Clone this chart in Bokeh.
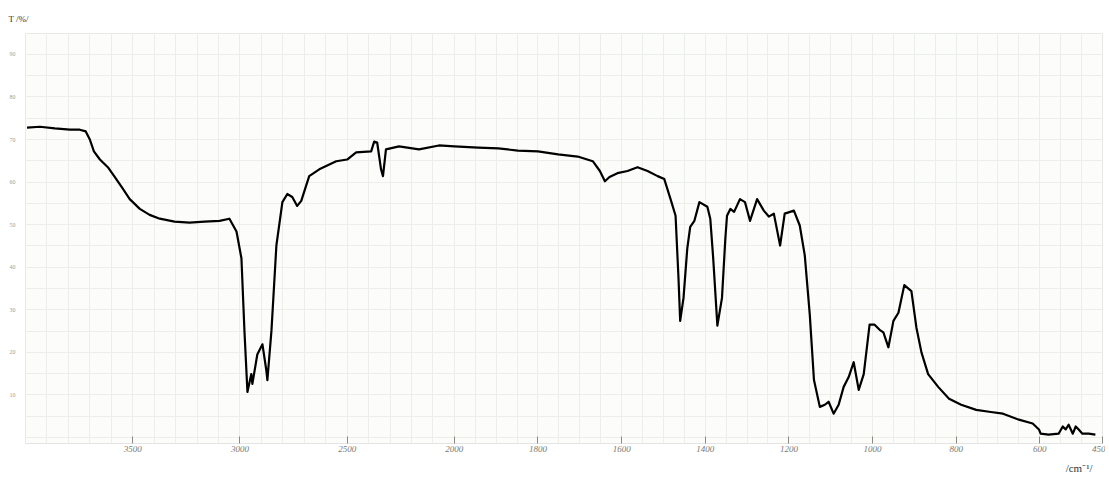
import numpy as np
from bokeh.plotting import figure
from bokeh.models import FixedTicker, Range1d, Title
from bokeh.embed import file_html
from bokeh.resources import INLINE

# --- data: IR spectrum (wavenumber cm^-1, transmittance %) ---
wavenumber = [3993, 3933, 3863, 3793, 3747, 3719, 3700, 3681, 3653, 3616, 3584, 3551,
              3514, 3467, 3421, 3374, 3305, 3235, 3165, 3095, 3049, 3016, 2993, 2979,
              2965, 2947, 2942, 2919, 2895, 2877, 2872, 2853, 2830, 2802, 2779, 2756,
              2733, 2714, 2677, 2630, 2551, 2500, 2458, 2388, 2374, 2360, 2342, 2333,
              2319, 2258, 2165, 2072, 2000, 1943, 1895, 1848, 1800, 1752, 1705, 1669,
              1652, 1640, 1629, 1610, 1586, 1562, 1538, 1514, 1498, 1483, 1471, 1464,
              1460, 1452, 1443, 1436, 1426, 1414, 1395, 1388, 1381, 1371, 1360, 1352,
              1348, 1340, 1331, 1317, 1305, 1293, 1276, 1260, 1248, 1236, 1221, 1210,
              1188, 1174, 1162, 1150, 1140, 1126, 1114, 1105, 1093, 1081, 1069, 1057,
              1045, 1033, 1021, 1007, 995, 983, 974, 962, 950, 938, 924, 907,
              895, 883, 867, 843, 817, 788, 752, 717, 688, 650, 617, 602,
              598, 579, 555, 545, 538, 531, 521, 514, 507, 498, 483, 467]
transmittance = [72.8, 73.0, 72.6, 72.3, 72.3, 71.9, 70.0, 67.2, 65.3, 63.5, 61.2, 58.8,
                 56.0, 53.7, 52.3, 51.4, 50.7, 50.5, 50.7, 50.9, 51.4, 48.4, 42.1, 25.1,
                 10.7, 14.9, 12.6, 19.5, 21.9, 15.8, 13.5, 25.1, 45.1, 55.3, 57.2, 56.5,
                 54.4, 55.6, 61.4, 63.0, 64.9, 65.3, 67.0, 67.2, 69.5, 69.3, 63.0, 61.4,
                 67.7, 68.4, 67.7, 68.6, 68.4, 68.1, 67.9, 67.4, 67.2, 66.5, 66.0, 64.9,
                 62.6, 60.2, 61.2, 62.1, 62.6, 63.5, 62.6, 61.4, 60.7, 56.0, 52.1, 37.4,
                 27.4, 32.8, 44.4, 49.5, 50.9, 55.3, 54.2, 51.4, 42.1, 26.3, 32.8, 46.7,
                 52.1, 53.7, 53.0, 56.0, 55.3, 50.9, 56.0, 53.3, 51.9, 52.6, 45.1, 52.6,
                 53.3, 49.8, 42.8, 28.8, 13.5, 7.2, 7.7, 8.4, 5.6, 7.7, 11.9, 14.2,
                 17.7, 11.2, 14.9, 26.5, 26.5, 25.3, 24.7, 21.2, 27.4, 29.3, 35.8, 34.4,
                 25.8, 20.0, 14.9, 11.9, 9.1, 7.7, 6.5, 6.0, 5.6, 4.2, 3.3, 1.9,
                 0.9, 0.7, 0.9, 2.6, 1.9, 3.0, 0.9, 2.6, 1.9, 0.9, 0.9, 0.7]

x_ticks = [3500, 3000, 2500, 2000, 1800, 1600, 1400, 1200, 1000, 800, 600, 450]
x_tick_labels = ["3500", "3000", "2500", "2000", "1800", "1600", "1400", "1200",
                 "1000", "800", "600", "450"]
y_ticks = [10, 20, 30, 40, 50, 60, 70, 80, 90]
y_tick_labels = ["10", "20", "30", "40", "50", "60", "70", "80", "90"]

WN_START, WN_END = 4000, 450
EXPANSION = 1.95  # chart scale below 2000 cm^-1 is expanded


def chart_pos(wn):
    wn = np.asarray(wn, dtype=float)
    return np.where(wn >= 2000, 4000 - wn, 2000 + EXPANSION * (2000 - wn))


p = figure(width=1105, height=478, output_backend="svg", toolbar_location=None,
           min_border_left=25, min_border_right=3, min_border_top=33, min_border_bottom=31,
           x_range=Range1d(float(chart_pos(WN_START)), float(chart_pos(WN_END))),
           y_range=Range1d(-1.4, 94.9))

p.background_fill_color = "#fcfcfa"
p.border_fill_color = "white"
p.outline_line_color = "#e8eae4"

# title
p.title.text = "T /%/"
p.title.align = "left"
p.title.offset = -17
p.title.standoff = 19
p.title.text_font = "Liberation Serif"
p.title.text_font_size = "9px"
p.title.text_font_style = "normal"
p.title.text_color = "#333333"

# x unit label (bottom right)
p.add_layout(Title(text="/cm\u207b\u00b9/", align="right", offset=10,
                   text_font="Liberation Serif", text_font_size="11px",
                   text_font_style="normal", text_color="#333333"), "below")

# x axis
xt = [float(v) for v in chart_pos(x_ticks)]
p.xaxis.ticker = FixedTicker(ticks=xt)
p.xaxis.major_label_overrides = {t: lab for t, lab in zip(xt, x_tick_labels)}
p.xaxis.major_tick_in = 7
p.xaxis.major_tick_out = 0
p.xaxis.minor_tick_line_color = None
p.xaxis.major_tick_line_color = "#8a8a80"
p.xaxis.axis_line_color = "#e4e4e4"
p.xaxis.major_label_text_font = "Liberation Serif"
p.xaxis.major_label_text_font_style = "italic"
p.xaxis.major_label_text_font_size = "9px"
p.xaxis.major_label_text_color = "#7a7a72"
p.xaxis.major_label_standoff = 2

# y axis
p.yaxis.ticker = FixedTicker(ticks=y_ticks)
p.yaxis.major_label_overrides = {t: lab for t, lab in zip(y_ticks, y_tick_labels)}
p.yaxis.major_tick_line_color = None
p.yaxis.minor_tick_line_color = None
p.yaxis.axis_line_color = None
p.yaxis.major_label_text_font = "Liberation Serif"
p.yaxis.major_label_text_font_size = "6px"
p.yaxis.major_label_text_color = "#a0a098"
p.yaxis.major_label_standoff = 4

# grids (faint chart paper)
grid_wn = list(range(3900, 2000, -100)) + list(range(2000, 450, -50))
p.xgrid.ticker = FixedTicker(ticks=[float(v) for v in chart_pos(grid_wn)])
p.xgrid.grid_line_color = "#eceee8"
p.xgrid.grid_line_width = 1
p.ygrid.ticker = FixedTicker(ticks=[float(v) for v in np.arange(0, 95, 5)])
p.ygrid.grid_line_color = "#eceee8"
p.ygrid.grid_line_width = 1

# spectrum
p.line(chart_pos(wavenumber), transmittance, line_color="black", line_width=2.2,
       line_join="round")

open("out.html", "w").write(file_html(p, INLINE))
